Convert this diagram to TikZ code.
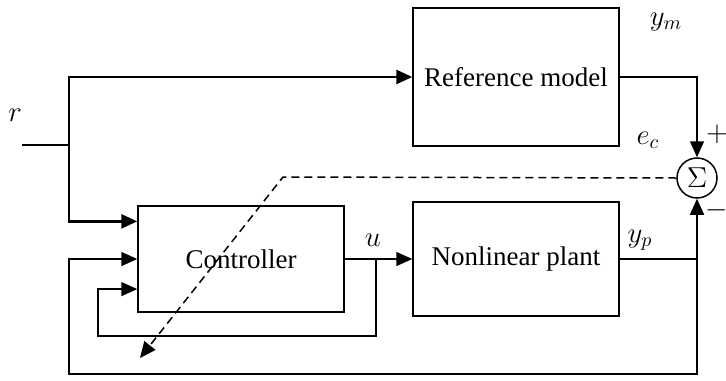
\documentclass[tikz,border=0pt]{standalone}
\usepackage{fontspec}
\setmainfont{Liberation Serif}
\usetikzlibrary{arrows.meta, positioning, calc}

\begin{document}
\begin{tikzpicture}[x=0.5pt, y=-0.5pt,
    block/.style={draw, line width=0.75pt, minimum width=103pt, font=\fontsize{13.5}{15}\selectfont},
    sumnode/.style={draw, circle, line width=0.75pt, minimum size=20pt, inner sep=0pt, font=\Large},
    sig/.style={line width=0.75pt},
    thk/.style={line width=1.4pt},
    tip/.style={-{Triangle[length=8pt, width=7pt]}},
    lbl/.style={font=\Large},
]
    \useasboundingbox (0,0) rectangle (726,380);

    % blocks
    \node[block, minimum height=69pt] (refmodel) at (516,77) {Reference model};
    \node[block, minimum height=53pt] (ctrl) at (241,259) {Controller};
    \node[block, minimum height=57pt] (plant) at (516,259) {Nonlinear plant};
    \node[sumnode] (sum) at (697,178) {$\Sigma$};

    % ports and branch points
    \coordinate (rin) at (22,145);
    \coordinate (rsplit) at (69,145);
    \coordinate (cin1) at ($(ctrl.north west)!0.15!(ctrl.south west)$);
    \coordinate (cin3) at ($(ctrl.north west)!0.78!(ctrl.south west)$);
    \coordinate (usplit) at (376,259);
    \coordinate (ysplit) at (697,259);

    % reference input
    \draw[sig] (rin) -- (rsplit);
    \draw[thk, tip] (rsplit) |- (refmodel.west);
    \draw[thk, tip] (rsplit) |- (cin1);

    % forward path
    \draw[sig, tip] (ctrl.east) -- (plant.west);
    \draw[sig, tip] (usplit) |- (98,336) |- (cin3);
    \draw[sig] (plant.east) -- (ysplit);
    \draw[sig, tip] (ysplit) -- (sum.south);
    \draw[sig, tip] (ysplit) |- (69,374) |- (ctrl.west);
    \draw[sig, tip] (refmodel.east) -| (sum.north);

    % error to controller (adaptation)
    \draw[sig, dash pattern=on 4pt off 2.5pt, tip] (sum.west) -- (283,177) -- (140,358);

    % labels
    \node[lbl] at (15,115) {$r$};
    \node[lbl] at (666,22) {$y_m$};
    \node[lbl] at (648,140) {$e_c$};
    \node[lbl] at (640,240) {$y_p$};
    \node[lbl] at (373,240) {$u$};
    \node[lbl] at (717,134) {$+$};
    \node[lbl] at (717,210) {$-$};
\end{tikzpicture}
\end{document}
